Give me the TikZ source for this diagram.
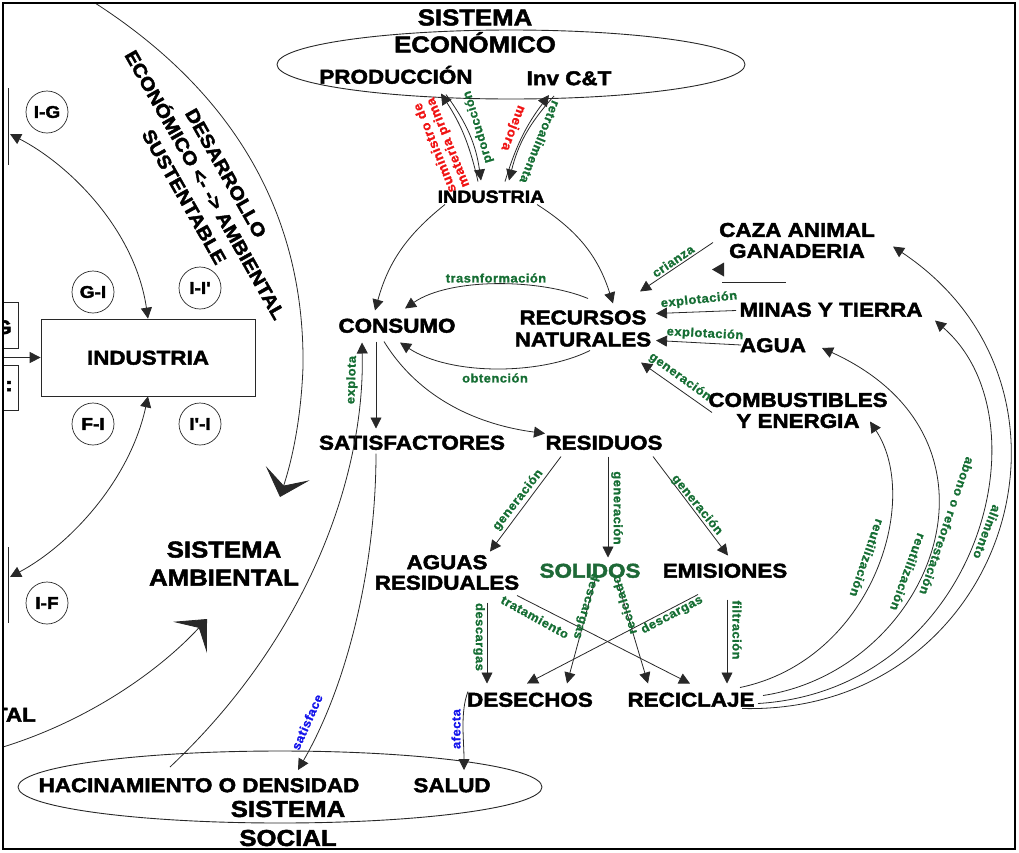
\documentclass[tikz,border=0pt]{standalone}
\usepackage{fontspec}
\setmainfont{Liberation Sans}
\newfontfamily\hv[FakeStretch=1.12,BoldFeatures={FakeBold=2.2}]{Liberation Sans}
\newfontfamily\lb[FakeStretch=1.05,LetterSpace=4,BoldFeatures={FakeBold=1.2}]{Liberation Sans}
\usetikzlibrary{arrows.meta,calc}
\definecolor{labgreen}{RGB}{22,110,52}
\definecolor{labred}{RGB}{240,20,20}
\definecolor{labblue}{RGB}{20,20,235}
\definecolor{solgreen}{RGB}{30,105,55}
\definecolor{ln}{RGB}{40,40,40}
\tikzset{
  big/.style={font=\hv\bfseries\fontsize{20}{22}\selectfont, inner sep=1pt, align=center},
  one/.style={text height=14.3pt, text depth=0pt},
  ttl/.style={font=\hv\bfseries\fontsize{23}{27}\selectfont, inner sep=0pt, align=center},
  lab/.style={font=\lb\bfseries\fontsize{12.3}{13.3}\selectfont, text=labgreen, inner sep=0pt, align=center},
  rlab/.style={lab, text=labred, font=\lb\bfseries\fontsize{13}{14}\selectfont},
  blab/.style={lab, text=labblue},
  circ/.style={circle, draw=ln, line width=0.7pt, minimum size=42pt, inner sep=0pt,
               font=\hv\bfseries\fontsize{17}{17}\selectfont},
  con/.style={draw=ln, line width=0.8pt, -{Triangle[length=11pt,width=11pt]}},
  dbl/.style={draw=ln, line width=0.8pt, {Triangle[length=11pt,width=11pt]}-{Triangle[length=11pt,width=11pt]}},
  chev/.style={draw=ln, line width=0.8pt, -{Stealth[length=25pt,width=46pt,inset=13pt]}},
  ell/.style={draw=ln, line width=0.9pt},
  thinln/.style={draw=ln, line width=0.8pt},
}
\begin{document}
\begin{tikzpicture}[x={(1pt,0pt)}, y={(0pt,-1pt)}]
\useasboundingbox (0,0) rectangle (1019,852);
\begin{scope}
\clip (3,3) rectangle (1015,849);

% ---------- economic system ----------
\draw[ell] (511,64.5) ellipse [x radius=234pt, y radius=34.5pt];
\node[ttl] (econ) at (475,31) {SISTEMA\\ECONÓMICO};
\node[big,one] (prod) at (396,76.5) {PRODUCCIÓN};
\node[big,one] (inv) at (569,78) {Inv C\&T};
\node[big,one,font=\hv\bfseries\fontsize{17.5}{20}\selectfont,text height=12.5pt] (indu) at (491,196.5) {INDUSTRIA};

\draw[con] ($(indu)+(-13,-15)$) to[bend right=10] ($(prod)+(45,17)$);
\draw[con] ($(prod)+(50,18)$) to[bend left=14] ($(indu)+(-10,-16)$);
\draw[con] ($(indu)+(14,-15)$) to[bend left=10] ($(inv)+(-20,17)$);
\draw[con] ($(inv)+(-15,18)$) to[bend right=14] ($(indu)+(18,-16)$);
\node[rlab, rotate=112] at (442,145) {suministro de\\materia prima};
\node[lab, rotate=107] at (478,127) {producción};
\node[rlab, rotate=-111] at (513,128) {mejora};
\node[lab, rotate=-112] at (540,142) {retroalimenta};

% ---------- resources and consumption ----------
\node[big,one] (cons) at (397,325.5) {CONSUMO};
\node[big] (recn) at (583,328.5) {RECURSOS\\NATURALES};
\node[big,font=\hv\bfseries\fontsize{20}{21}\selectfont] (caza) at (797,240.5) {CAZA ANIMAL\\GANADERIA};
\node[big,one] (minas) at (831,309.5) {MINAS Y TIERRA};
\node[big,one] (agua) at (773,345) {AGUA};
\node[big,font=\hv\bfseries\fontsize{20}{21}\selectfont] (comb) at (798,410.5) {COMBUSTIBLES\\Y ENERGIA};

\draw[con] ($(indu)+(-46,8)$) to[bend right=18] ($(cons)+(-22,-15)$);
\draw[con] ($(indu)+(46,8)$) to[bend left=20] ($(recn)+(30,-25)$);
\draw[con] ($(recn)+(5,-30)$) .. controls ($(recn)+(-43,-50)$) and ($(cons)+(53,-48)$) .. ($(cons)+(8,-17)$);
\draw[con] ($(recn)+(7,22)$) .. controls ($(recn)+(-43,47)$) and ($(cons)+(53,50)$) .. ($(cons)+(3,17)$);
\node[lab] at (496,278) {trasnformación};
\node[lab] at (495,378) {obtención};

\draw[con] ($(caza)+(-84,2)$) -- ($(recn)+(57,-37)$);
\draw[con] ($(minas)+(-95,1)$) -- ($(recn)+(73,-15)$);
\draw[con] ($(agua)+(-32,0)$) -- ($(recn)+(73,12)$);
\draw[con] ($(comb)+(-86,2)$) -- ($(recn)+(58,34)$);
\node[lab, rotate=34] at (673,261) {crianza};
\node[lab, rotate=6] at (699,300) {explotación};
\node[lab, rotate=-3] at (705,334) {explotación};
\node[lab, rotate=-36] at (680,377) {generación};
% short rule and loose head under the livestock box
\draw[thinln] ($(caza)+(-75,42)$) -- ($(caza)+(-11,42)$);
\fill[ln] ($(caza)+(-85,29)$) -- ++(12,-7) -- ++(0,14) -- cycle;

% ---------- satisfiers and waste ----------
\node[big,one] (satis) at (412,442.5) {SATISFACTORES};
\node[big,one] (resid) at (604,442.5) {RESIDUOS};
\draw[con] ($(cons)+(-21,16)$) -- ($(satis)+(-36,-14)$);
\draw[con] ($(cons)+(-13,16)$) .. controls (420,400) and (480,425) .. ($(resid)+(-59,-9)$);

\node[big,font=\hv\bfseries\fontsize{20}{20.5}\selectfont] (aguasr) at (447,572.5) {AGUAS\\RESIDUALES};
\node[big,one,text=solgreen] (solid) at (590,570.5) {SOLIDOS};
\node[big,one] (emis) at (725,570.5) {EMISIONES};
\node[big,one] (dese) at (530,699.5) {DESECHOS};
\node[big,one] (reci) at (691,699.5) {RECICLAJE};

\draw[con] ($(resid)+(-43,14)$) -- ($(aguasr)+(43,-21)$);
\draw[con] ($(resid)+(4,14)$) -- ($(solid)+(18,-13)$);
\draw[con] ($(resid)+(49,14)$) -- ($(emis)+(3,-15)$);
\node[lab, rotate=52] at (518,500) {generación};
\node[lab, rotate=-90] at (617,508) {generación};
\node[lab, rotate=-51] at (697,505) {generación};

\draw[con] ($(aguasr)+(40,30)$) -- ($(dese)+(-43,-16)$);
\draw[con] ($(aguasr)+(70,23)$) -- ($(reci)+(-1,-16)$);
\draw[con] ($(solid)+(5,10)$) -- ($(dese)+(37,-16)$);
\draw[con] ($(solid)+(27,9)$) -- ($(reci)+(-43,-16)$);
\draw[con] ($(emis)+(-27,24)$) -- ($(dese)+(-3,-16)$);
\draw[con] ($(emis)+(2,29)$) -- ($(reci)+(36,-16)$);
\node[lab, rotate=-90] at (479,637) {descargas};
\node[lab, rotate=-29] at (535,617) {tratamiento};
\node[lab, rotate=-106] at (586,606) {descargas};
\node[lab, rotate=107] at (624,605) {reciclado};
\node[lab, rotate=28] at (672,615) {descargas};
\node[lab, rotate=-90] at (737,630) {filtración};

% recycling loops back to the resources
\draw[con] ($(reci)+(49,-12)$) .. controls (872,660) and (922,500) .. ($(comb)+(72,11)$);
\draw[con] ($(reci)+(72,-4)$) .. controls (932,670) and (1024,440) .. ($(agua)+(49,3)$);
\draw[con] ($(reci)+(67,4)$) .. controls (978,690) and (1050,420) .. ($(minas)+(104,11)$);
\draw[con] ($(reci)+(51,9)$) .. controls (1005,715) and (1108,390) .. ($(caza)+(96,6)$);
\node[lab, rotate=-109] at (867,558) {reutilización};
\node[lab, rotate=-110] at (908,572) {reutilización};
\node[lab, rotate=-109] at (947,526) {abono o reforestación};
\node[lab, rotate=-111] at (987,532) {alimento};

% ---------- social system ----------
\draw[ell] (280,787) ellipse [x radius=262pt, y radius=36pt];
\node[big,one] (hac) at (199,785) {HACINAMIENTO O DENSIDAD};
\node[big,one] (salud) at (452,785) {SALUD};
\node[ttl,font=\hv\bfseries\fontsize{23}{29}\selectfont] (social) at (288,823.5) {SISTEMA\\SOCIAL};

\draw[con] ($(hac)+(-29,-18)$) .. controls (305,640) and (365,480) .. ($(cons)+(-35,17)$);
\draw[con] ($(satis)+(-36,11)$) .. controls (376,560) and (350,680) .. ($(hac)+(99,-15)$);
\draw[con] ($(dese)+(-62,-8)$) .. controls (460,712) and (464,740) .. ($(salud)+(12,-15)$);
\node[lab, rotate=88] at (352,380) {explota};
\node[blab, rotate=66] at (307,722) {satisface};
\node[blab, rotate=90] at (456,729) {afecta};

% ---------- environmental system ----------
\node[ttl,font=\hv\bfseries\fontsize{23}{28}\selectfont] (amb) at (224,563.5) {SISTEMA\\AMBIENTAL};
\node[font=\hv\bfseries\fontsize{18.5}{24}\selectfont, align=center, rotate=-60.5, inner sep=0pt] (desa)
  at (205,185) {DESARROLLO\\ECONÓMICO <- -> AMBIENTAL\\SUSTENTABLE};
\coordinate (arcA) at (95,3);
\coordinate (arcB) at (3,747);
\draw[chev] (arcA) .. controls (230,90) and (305,210) .. (303,367)
  .. controls (301,420) and (292,460) .. (280,497);
\draw[chev] (arcB) .. controls (90,720) and (160,670) .. (207,619);
\node[big,one,anchor=east] (ambr) at (37,714.5) {AMBIENTAL};

% industry block with its exchanges
\node[draw=ln, line width=0.7pt, minimum width=214pt, minimum height=77pt, big, one] (indbox) at (148,357.5) {INDUSTRIA};
\node[circ] (ig) at (47,112) {I-G};
\node[circ] (gi) at (93,292) {G-I};
\node[circ] (iip) at (200,288) {I-I'};
\node[circ] (fi) at (93,424) {F-I};
\node[circ] (ipi) at (200,424) {I'-I};
\node[circ] (nif) at (47,603) {I-F};
\coordinate (gend) at (10,134);
\coordinate (fend) at (10,577);
\coordinate (inl) at (3,357.5);
\draw[dbl] (indbox.north) .. controls (135,230) and (70,165) .. (gend);
\draw[dbl] (indbox.south) .. controls (130,480) and (70,545) .. (fend);
\draw[con] (inl) -- (indbox.west);
\draw[thinln] (8,88) -- (8,165);
\draw[thinln] (8,547) -- (8,623);
\draw[thinln] (3,302) -- (18,302) -- (18,348) -- (3,348);
\draw[thinln] (3,365) -- (18,365) -- (18,410) -- (3,410);
\node[big,one,anchor=east] (gtxt) at (13,327) {G};
\node[big,one] (colon) at (9,384) {:};
\end{scope}
\draw[line width=2.5pt] (3,3) rectangle (1015,849);
\end{tikzpicture}
\end{document}
